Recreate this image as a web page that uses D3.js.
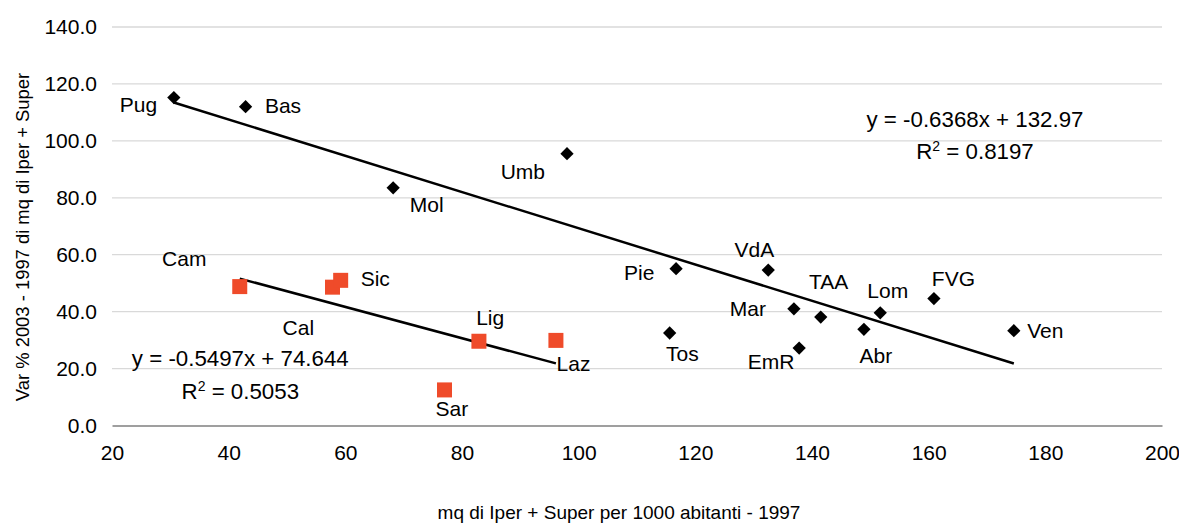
<!DOCTYPE html>
<html>
<head>
<meta charset="utf-8">
<script src="https://cdn.jsdelivr.net/npm/d3@7"></script>
<style>
  html, body { margin: 0; padding: 0; background: #ffffff; }
  svg { display: block; font-family: "Liberation Sans", Arial, sans-serif; }
</style>
</head>
<body>
<svg id="chart" width="1179" height="523"></svg>
<script>
// ---- Data ----
const northNames = ["Pug","Bas","Mol","Umb","Pie","VdA","Tos","Mar","TAA","EmR","Abr","Lom","FVG","Ven"];
const northX     = [30.6, 42.9, 68.2, 98.0, 116.7, 132.5, 115.6, 136.9, 141.5, 137.8, 148.9, 151.7, 160.9, 174.6];
const northY     = [115.2, 112.0, 83.5, 95.5, 55.1, 54.6, 32.5, 41.0, 38.1, 27.2, 33.8, 39.6, 44.6, 33.3];

const southNames = ["Cam","Cal","Sic","Lig","Laz","Sar"];
const southX     = [41.9, 57.8, 59.2, 82.9, 96.1, 77.0];
const southY     = [48.8, 48.6, 51.0, 29.6, 29.9, 12.5];

const trendSlopes     = [-0.6368, -0.5497];
const trendIntercepts = [132.97, 74.644];
const trendEquations  = ["y = -0.6368x + 132.97", "y = -0.5497x + 74.644"];
const trendR2         = ["0.8197", "0.5053"];

const xTicks = [20, 40, 60, 80, 100, 120, 140, 160, 180, 200];
const yTicks = [0, 20, 40, 60, 80, 100, 120, 140];

const xTitle = "mq di Iper + Super per 1000 abitanti - 1997";
const yTitle = "Var % 2003 - 1997 di mq di Iper + Super";

// ---- Label placement (pixel offsets from the point) ----
const labelPlacement = {
  Pug: [-16.6, 14, "end"],  Bas: [19.3, 6, "start"],  Mol: [16.7, 24.6, "start"],
  Umb: [-22, 25.3, "end"],  Pie: [-21.7, 11.3, "end"], VdA: [-13.8, -12.7, "middle"],
  Tos: [12.8, 27.7, "middle"], Mar: [-28, 7.3, "end"], TAA: [7.8, -28.3, "middle"],
  EmR: [-4.7, 21.3, "end"], Abr: [12, 34, "middle"], Lom: [7.5, -14.7, "middle"],
  FVG: [19.5, -12.7, "middle"], Ven: [13.3, 7, "start"],
  Cam: [-55.5, -20.7, "middle"], Sic: [20, 6, "start"], Cal: [-34.2, 47.7, "middle"],
  Lig: [11.3, -16.3, "middle"], Laz: [0.7, 30.4, "start"], Sar: [7.3, 26, "middle"]
};

// ---- Layout ----
const svg = d3.select("#chart");
const x = d3.scaleLinear().domain([20, 200]).range([112, 1162]);
const y = d3.scaleLinear().domain([0, 140]).range([425.5, 27]);

const labelFont = 21;
const eqFont = 22.3;
const RED = "#EF4B2A";

// gridlines
svg.append("g")
  .selectAll("line")
  .data(yTicks.filter(t => t !== 0))
  .join("line")
  .attr("x1", x(20)).attr("x2", x(200))
  .attr("y1", d => y(d)).attr("y2", d => y(d))
  .attr("stroke", "#d9d9d9").attr("stroke-width", 1.3);

// y axis (labels only)
const yAxis = svg.append("g")
  .attr("transform", `translate(${x(20)},0)`)
  .call(d3.axisLeft(y).tickValues(yTicks).tickFormat(d3.format(".1f")).tickSize(0).tickPadding(15));
yAxis.select(".domain").remove();
yAxis.selectAll("text").attr("font-size", labelFont).attr("fill", "#000")
  .attr("font-family", "Liberation Sans, Arial, sans-serif");

// x axis
const xAxis = svg.append("g")
  .attr("transform", `translate(0,${y(0)})`)
  .call(d3.axisBottom(x).tickValues(xTicks).tickFormat(d3.format("d")).tickSize(0).tickPadding(20));
xAxis.select(".domain").attr("stroke", "#7f7f7f").attr("stroke-width", 1.3);
xAxis.selectAll("text").attr("font-size", labelFont).attr("fill", "#000")
  .attr("font-family", "Liberation Sans, Arial, sans-serif");

// axis titles
svg.append("text")
  .attr("x", 619).attr("y", 519)
  .attr("text-anchor", "middle").attr("font-size", 19).attr("fill", "#000")
  .text(xTitle);
svg.append("text")
  .attr("transform", `translate(29,237) rotate(-90)`)
  .attr("text-anchor", "middle").attr("font-size", 18.4).attr("fill", "#000")
  .text(yTitle);

// trend lines
const seriesX = [northX, southX];
seriesX.forEach((xs, i) => {
  const x0 = d3.min(xs), x1 = d3.max(xs);
  svg.append("line")
    .attr("x1", x(x0)).attr("y1", y(trendSlopes[i] * x0 + trendIntercepts[i]))
    .attr("x2", x(x1)).attr("y2", y(trendSlopes[i] * x1 + trendIntercepts[i]))
    .attr("stroke", "#000").attr("stroke-width", 2.5);
});

// points
const north = northNames.map((n, i) => ({ name: n, x: northX[i], y: northY[i] }));
const south = southNames.map((n, i) => ({ name: n, x: southX[i], y: southY[i] }));

svg.append("g").selectAll("path")
  .data(north).join("path")
  .attr("d", d3.symbol(d3.symbolSquare, 88))
  .attr("transform", d => `translate(${x(d.x)},${y(d.y)}) rotate(45)`)
  .attr("fill", "#000");

svg.append("g").selectAll("rect")
  .data(south).join("rect")
  .attr("x", d => x(d.x) - 7.5).attr("y", d => y(d.y) - 7.5)
  .attr("width", 15).attr("height", 15)
  .attr("fill", RED);

// point labels
svg.append("g").selectAll("text")
  .data(north.concat(south)).join("text")
  .attr("x", d => x(d.x) + labelPlacement[d.name][0])
  .attr("y", d => y(d.y) + labelPlacement[d.name][1])
  .attr("text-anchor", d => labelPlacement[d.name][2])
  .attr("font-size", labelFont).attr("fill", "#000")
  .text(d => d.name);

// equations
const eqPos = [[975, 126.7, 159.3], [240.3, 366, 398.7]];
trendEquations.forEach((eq, i) => {
  svg.append("text")
    .attr("x", eqPos[i][0]).attr("y", eqPos[i][1])
    .attr("text-anchor", "middle").attr("font-size", eqFont).attr("fill", "#000")
    .text(eq);
  const t = svg.append("text")
    .attr("x", eqPos[i][0]).attr("y", eqPos[i][2])
    .attr("text-anchor", "middle").attr("font-size", eqFont).attr("fill", "#000");
  t.append("tspan").text("R");
  t.append("tspan").attr("font-size", 14).attr("dy", -8).text("2");
  t.append("tspan").attr("dy", 8).text(" = " + trendR2[i]);
});
</script>
</body>
</html>
